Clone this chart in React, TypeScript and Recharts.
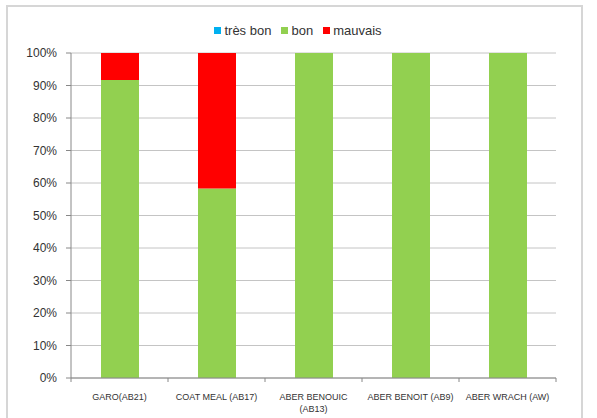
import { BarChart, Bar, XAxis, YAxis, CartesianGrid, Legend } from "recharts";

const categories = ["GARO(AB21)", "COAT MEAL (AB17)", "ABER BENOUIC (AB13)", "ABER BENOIT (AB9)", "ABER WRACH (AW)"];
const tresBon = [0, 0, 0, 0, 0];
const bon = [91.67, 58.33, 100, 100, 100];
const mauvais = [8.33, 41.67, 0, 0, 0];
const yTicks = [0, 10, 20, 30, 40, 50, 60, 70, 80, 90, 100];

const series = [
  { key: "tresBon", name: "très bon", color: "#00B0F0" },
  { key: "bon", name: "bon", color: "#92D050" },
  { key: "mauvais", name: "mauvais", color: "#FF0000" },
];

const data = categories.map((c, i) => ({
  name: c,
  tresBon: tresBon[i],
  bon: bon[i],
  mauvais: mauvais[i],
}));

const FONT = "'Liberation Sans', Arial, sans-serif";

function LegendContent() {
  return (
    <div style={{ display: "flex", justifyContent: "center", height: 31, paddingLeft: 50, fontFamily: FONT, fontSize: 13, color: "#333" }}>
      {series.map((s) => (
        <div key={s.key} style={{ display: "flex", alignItems: "center", marginRight: 10, height: 16 }}>
          <span style={{ width: 7, height: 7, background: s.color, marginRight: 3, display: "inline-block" }} />
          <span>{s.name}</span>
        </div>
      ))}
    </div>
  );
}

// long labels wrap onto two lines at the last space
function splitLabel(s: string) {
  if (s.length <= 18) return [s];
  const i = s.lastIndexOf(" ");
  return [s.slice(0, i), s.slice(i + 1)];
}

function XTick(props: any) {
  const { x, y, payload, index } = props;
  const half = 48.5;
  const lines = splitLabel(payload.value);
  return (
    <g>
      <line x1={x - half} y1={y - 8} x2={x - half} y2={y - 4} stroke="#888" />
      {index === categories.length - 1 && (
        <line x1={x + half} y1={y - 8} x2={x + half} y2={y - 4} stroke="#888" />
      )}
      <text x={x} y={y + 14} textAnchor="middle" fontSize={9} fontFamily={FONT} fill="#333">
        {lines.map((l, i) => (
          <tspan key={i} x={x} dy={i === 0 ? 0 : 12}>
            {l}
          </tspan>
        ))}
      </text>
    </g>
  );
}

export default function App() {
  return (
    <div style={{ position: "relative", width: 597, height: 418, background: "#fff", overflow: "hidden" }}>
      <style>{"body{margin:0}"}</style>
      <div
        style={{
          position: "absolute",
          left: 6,
          top: 5,
          width: 577,
          height: 430,
          border: "2px solid #d6d6d6",
          boxSizing: "border-box",
        }}
      />
      <BarChart
        width={597}
        height={418}
        data={data}
        margin={{ top: 22, right: 41, bottom: 0, left: 0 }}
        barSize={38}
      >
        <CartesianGrid vertical={false} stroke="#c4c4c4" />
        <Legend verticalAlign="top" align="center" content={<LegendContent />} />
        <XAxis
          dataKey="name"
          height={40}
          stroke="#888"
          tickLine={false}
          interval={0}
          tick={<XTick />}
        />
        <YAxis
          width={71}
          domain={[0, 100]}
          ticks={yTicks}
          stroke="#888"
          tickSize={5}
          tickMargin={9}
          tickFormatter={(v) => `${v}%`}
          tick={{ fontFamily: FONT, fontSize: 12, fill: "#333" }}
        />
        {series.map((s) => (
          <Bar key={s.key} dataKey={s.key} name={s.name} stackId="a" fill={s.color} isAnimationActive={false} />
        ))}
      </BarChart>
    </div>
  );
}
